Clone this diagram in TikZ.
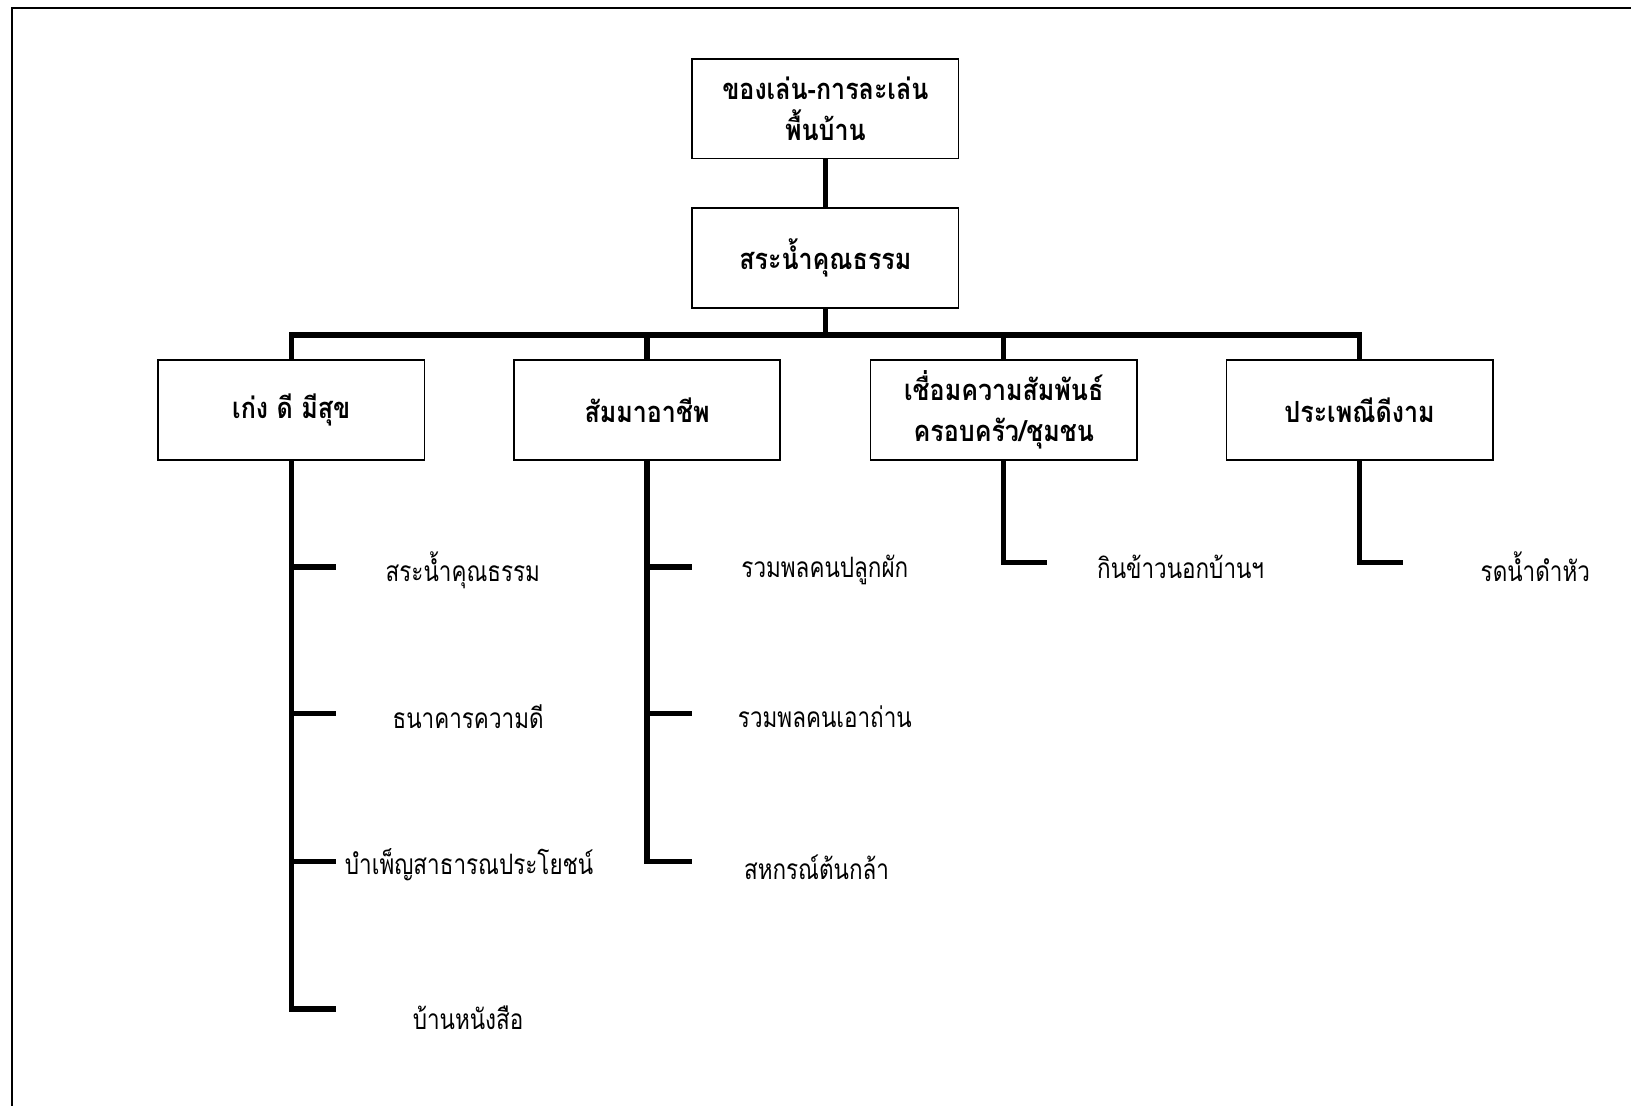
\documentclass[tikz,border=0pt]{standalone}
\usepackage{fontspec}
\newfontfamily\thaifont[Script=Thai,FakeStretch=0.8]{Loma}
\newfontfamily\thaihead[Script=Thai,FakeStretch=0.86]{Loma}
\tikzset{
every node/.style={font=\thaifont},
box/.style={rectangle, draw, line width=1.6pt, minimum width=256pt, minimum height=96pt, align=center, font=\thaihead\bfseries\fontsize{28}{40}\selectfont},
item/.style={font=\thaifont\fontsize{27}{30}\selectfont},
link/.style={line width=5pt}
}

\begin{document}
\begin{tikzpicture}[x=1pt,y=-1pt]
\useasboundingbox (0,0) rectangle (1568,1063);
\draw[line width=2.2pt] (11.5,1070) -- (11.5,7.5) -- (1575,7.5);

\node[box] (top) at (793.5,104.5) {ของเล่น-การละเล่น\\พื้นบ้าน};
\node[box] (pool) at (793.5,248) {สระน้ำคุณธรรม};
\node[box] (b1) at (280,394) {เก่ง ดี มีสุข};
\node[box] (b2) at (622,394) {สัมมาอาชีพ};
\node[box] (b3) at (965,394) {เชื่อมความสัมพันธ์\\ครอบครัว/ชุมชน};
\node[box] (b4) at (1307,394) {ประเพณีดีงาม};
\coordinate (bus) at (793.5,322);

\draw[link] (top) -- (pool);
\draw[link] (pool) -- (bus);
\draw[link] (bus) -| (b1);
\draw[link] (bus) -| (b2);
\draw[link] (bus) -| (b3);
\draw[link] (bus) -| (b4);

% first column
\coordinate (t11) at (323,545);
\coordinate (t12) at (323,686);
\coordinate (t13) at (323,828);
\coordinate (t14) at (323,970);
\draw[link] (b1) |- (t14);
\draw[link] (b1 |- t11) -- (t11);
\draw[link] (b1 |- t12) -- (t12);
\draw[link] (b1 |- t13) -- (t13);
\node[item] (i11) at (445,548) {สระน้ำคุณธรรม};
\node[item] (i12) at (450,689) {ธนาคารความดี};
\node[item] (i13) at (451,831) {บำเพ็ญสาธารณประโยชน์};
\node[item] (i14) at (450,978) {บ้านหนังสือ};

% second column
\coordinate (t21) at (665,545);
\coordinate (t22) at (665,686);
\coordinate (t23) at (665,828);
\draw[link] (b2) |- (t23);
\draw[link] (b2 |- t21) -- (t21);
\draw[link] (b2 |- t22) -- (t22);
\node[item] (i21) at (793,548) {รวมพลคนปลูกผัก};
\node[item] (i22) at (793,689) {รวมพลคนเอาถ่าน};
\node[item] (i23) at (785,834) {สหกรณ์ต้นกล้า};

% third and fourth column
\coordinate (t31) at (1007,541);
\coordinate (t41) at (1349,541);
\draw[link] (b3) |- (t31);
\draw[link] (b4) |- (t41);
\node[item] (i31) at (1135,545) {กินข้าวนอกบ้านฯ};
\node[item] (i41) at (1476,545) {รดน้ำดำหัว};
\end{tikzpicture}
\end{document}
